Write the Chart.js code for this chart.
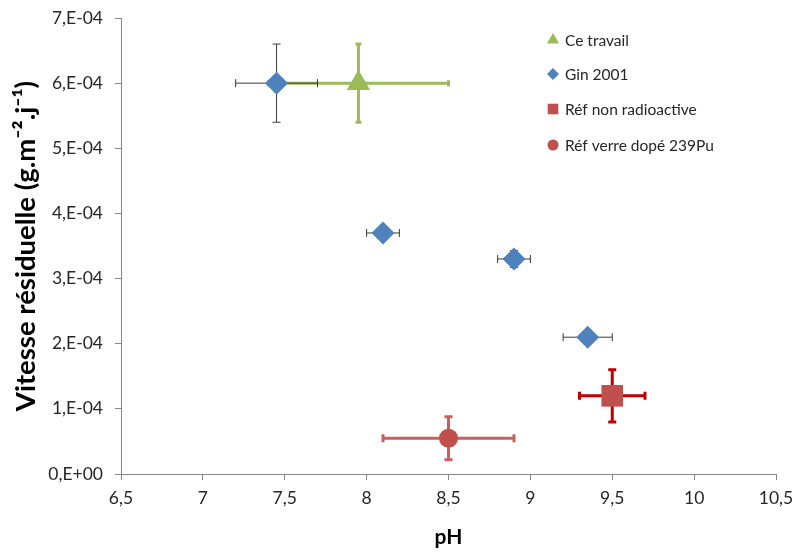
<!DOCTYPE html>
<html>
<head>
<meta charset="utf-8">
<script src="https://cdn.jsdelivr.net/npm/chart.js@4"></script>
<style>
    body { margin: 0; background: #fff; }
    #wrap { width: 796px; height: 554px; }
</style>
</head>
<body>
<div id="wrap"><canvas id="myChart" width="796" height="554"></canvas></div>
<script>
// Data
const seriesNames = ['Ce travail', 'Gin 2001', 'Réf non radioactive', 'Réf verre dopé 239Pu'];

const travailPH = [7.95];
const travailV = [6.0e-4];
const travailErrPH = [0.55];
const travailErrV = [0.6e-4];

const ginPH = [7.45, 8.1, 8.9, 9.35];
const ginV = [6.0e-4, 3.7e-4, 3.3e-4, 2.1e-4];
const ginErrPH = [0.25, 0.1, 0.1, 0.15];
const ginErrV = [0.6e-4, 0.08e-4, 0.13e-4, 0];

const refPH = [9.5];
const refV = [1.2e-4];
const refErrPH = [0.2];
const refErrV = [0.4e-4];

const puPH = [8.5];
const puV = [0.55e-4];
const puErrPH = [0.4];
const puErrV = [0.33e-4];

const xTicks = [6.5, 7, 7.5, 8, 8.5, 9, 9.5, 10, 10.5];
const yTicks = ['0,E+00', '1,E-04', '2,E-04', '3,E-04', '4,E-04', '5,E-04', '6,E-04', '7,E-04'];

function points(xs, ys, exs, eys) {
    return xs.map((x, i) => ({ x: x, y: ys[i], ex: exs[i], ey: eys[i] }));
}

const FONT = "Lato, 'Open Sans', sans-serif";

// Error bars
const errorBars = {
    id: 'errorBars',
    beforeDatasetsDraw(chart) {
        const ctx = chart.ctx;
        const xs = chart.scales.x;
        const ys = chart.scales.y;
        chart.data.datasets.forEach(ds => {
            const eb = ds.errorBar;
            ctx.save();
            ctx.strokeStyle = eb.color;
            ctx.lineWidth = eb.width;
            ds.data.forEach(p => {
                const cx = xs.getPixelForValue(p.x);
                const cy = ys.getPixelForValue(p.y);
                ctx.beginPath();
                if (p.ex) {
                    const x1 = xs.getPixelForValue(p.x - p.ex);
                    const x2 = xs.getPixelForValue(p.x + p.ex);
                    ctx.moveTo(x1, cy); ctx.lineTo(x2, cy);
                    ctx.moveTo(x1, cy - eb.cap); ctx.lineTo(x1, cy + eb.cap);
                    ctx.moveTo(x2, cy - eb.cap); ctx.lineTo(x2, cy + eb.cap);
                }
                if (p.ey) {
                    const y1 = ys.getPixelForValue(p.y - p.ey);
                    const y2 = ys.getPixelForValue(p.y + p.ey);
                    ctx.moveTo(cx, y1); ctx.lineTo(cx, y2);
                    ctx.moveTo(cx - eb.cap, y1); ctx.lineTo(cx + eb.cap, y1);
                    ctx.moveTo(cx - eb.cap, y2); ctx.lineTo(cx + eb.cap, y2);
                }
                ctx.stroke();
            });
            ctx.restore();
        });
    }
};

// Legend inside the plot
const insideLegend = {
    id: 'insideLegend',
    afterDraw(chart) {
        const ctx = chart.ctx;
        const legendX = 553;
        const legendY = [40, 74, 109, 145];
        chart.data.datasets.forEach((ds, i) => {
            ctx.save();
            ctx.fillStyle = ds.backgroundColor;
            ctx.strokeStyle = ds.backgroundColor;
            Chart.helpers.drawPoint(ctx, {
                pointStyle: ds.pointStyle,
                radius: ds.legendRadius,
                borderWidth: 0
            }, legendX, legendY[i]);
            ctx.fillStyle = '#262626';
            ctx.font = '15.5px ' + FONT;
            ctx.textBaseline = 'middle';
            ctx.fillText(ds.label, legendX + 12, legendY[i] + 1);
            ctx.restore();
        });
    }
};

const ctx = document.getElementById('myChart').getContext('2d');

const myChart = new Chart(ctx, {
    type: 'scatter',
    data: {
        datasets: [{
            label: seriesNames[0],
            data: points(travailPH, travailV, travailErrPH, travailErrV),
            pointStyle: 'triangle',
            pointRadius: 13.5,
            backgroundColor: '#9BBB59',
            borderColor: '#9BBB59',
            borderWidth: 0,
            legendRadius: 7,
            errorBar: { color: '#9BBB59', width: 3, cap: 3 }
        }, {
            label: seriesNames[1],
            data: points(ginPH, ginV, ginErrPH, ginErrV),
            pointStyle: 'rectRot',
            pointRadius: 11.5,
            backgroundColor: '#4F81BD',
            borderColor: '#4F81BD',
            borderWidth: 0,
            legendRadius: 6,
            errorBar: { color: '#3a3a3a', width: 1, cap: 4 }
        }, {
            label: seriesNames[2],
            data: points(refPH, refV, refErrPH, refErrV),
            pointStyle: 'rect',
            pointRadius: 15.3,
            backgroundColor: '#C0504D',
            borderColor: '#C0504D',
            borderWidth: 0,
            legendRadius: 7.5,
            errorBar: { color: '#C00000', width: 3, cap: 4 }
        }, {
            label: seriesNames[3],
            data: points(puPH, puV, puErrPH, puErrV),
            pointStyle: 'circle',
            pointRadius: 9.5,
            backgroundColor: '#C0504D',
            borderColor: '#C0504D',
            borderWidth: 0,
            legendRadius: 5.5,
            errorBar: { color: '#C9605D', width: 3, cap: 4 }
        }]
    },
    options: {
        responsive: false,
        animation: false,
        layout: { padding: { top: 18, right: 20, left: 0, bottom: 0 } },
        plugins: {
            legend: { display: false },
            tooltip: { enabled: false }
        },
        scales: {
            x: {
                type: 'linear',
                min: xTicks[0],
                max: xTicks[xTicks.length - 1],
                afterBuildTicks: scale => { scale.ticks = xTicks.map(v => ({ value: v })); },
                afterFit: scale => {
                    scale.height = 80;
                    scale.paddingLeft = 0;
                    scale.paddingRight = 0;
                },
                grid: { drawOnChartArea: false, color: '#868686', tickLength: 6 },
                border: { color: '#868686' },
                ticks: {
                    color: '#262626',
                    font: { family: FONT, size: 17.5 },
                    padding: 8,
                    maxRotation: 0,
                    callback: v => String(v).replace('.', ',')
                },
                title: {
                    display: true,
                    text: 'pH',
                    color: '#000',
                    font: { family: FONT, size: 21, weight: 'bold' },
                    padding: { top: 10 }
                }
            },
            y: {
                type: 'linear',
                min: 0,
                max: 7e-4,
                afterBuildTicks: scale => { scale.ticks = yTicks.map((t, i) => ({ value: i * 1e-4 })); },
                afterFit: scale => {
                    scale.width = 121;
                    scale.paddingTop = 0;
                    scale.paddingBottom = 0;
                },
                grid: { drawOnChartArea: false, color: '#868686', tickLength: 6 },
                border: { color: '#868686' },
                ticks: {
                    color: '#262626',
                    font: { family: FONT, size: 17.5 },
                    padding: 12,
                    callback: (v, i) => yTicks[i]
                },
                title: {
                    display: true,
                    text: 'Vitesse résiduelle (g.m⁻².j⁻¹)',
                    color: '#000',
                    font: { family: FONT, size: 27.5, weight: 'bold' },
                    padding: { top: 10, bottom: 0 }
                }
            }
        }
    },
    plugins: [errorBars, insideLegend]
});
</script>
</body>
</html>
